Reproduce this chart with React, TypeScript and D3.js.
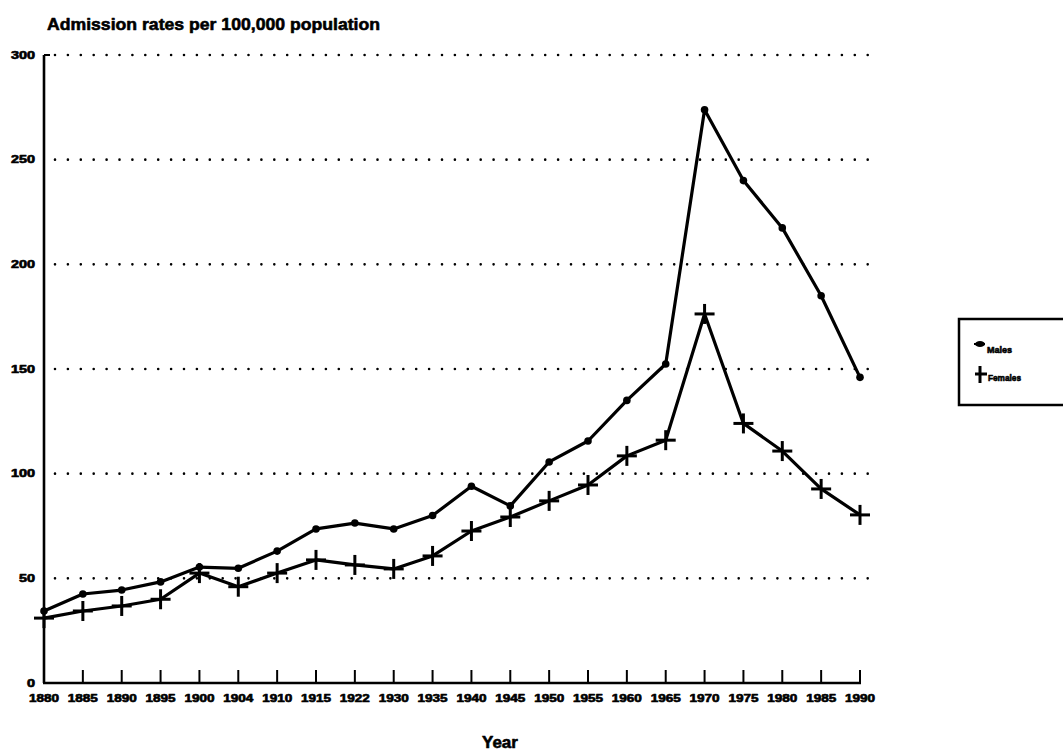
import React from "react";
import * as d3 from "d3";

const years = ["1880","1885","1890","1895","1900","1904","1910","1915","1922","1930","1935","1940","1945","1950","1955","1960","1965","1970","1975","1980","1985","1990"];
const males = [34.4,42.5,44.4,48.3,55.4,54.8,63,73.6,76.4,73.6,80,94,84.6,105.6,115.6,135,152.4,273.8,240,217.4,185,146];
const females = [31,34.4,36.8,40,52.5,46,52.5,58.8,56.4,54.5,60.7,72.6,79.3,87,94.6,108.5,116,176.3,124,110.8,92.7,80.3];
const yTicks = [0,50,100,150,200,250,300];
const gridTicks = [50,100,150,200,250,300];

const W = 1063, H = 751;
const FONT = "'Liberation Sans', Arial, sans-serif";

export default function App() {
  const x = d3.scalePoint<string>().domain(years).range([44, 860]);
  const y = d3.scaleLinear().domain([0, 300]).range([683, 55]);
  const line = d3.line<number>().x((_, i) => x(years[i])!).y((d) => y(d));
  const heavy = { stroke: "#000", strokeWidth: 0.6, strokeLinejoin: "round" as const };

  return (
    <svg width={W} height={H} style={{ position: "absolute", left: 0, top: 0, background: "#fff" }}>
      <rect width={W} height={H} fill="#fff" />
      <text x={47} y={30} fontFamily={FONT} fontWeight="bold" fontSize={17} textLength={333} lengthAdjust="spacingAndGlyphs" {...heavy}>Admission rates per 100,000 population</text>
      {gridTicks.map((t) => (
        <line key={t} x1={55} x2={880} y1={y(t)} y2={y(t)} stroke="#000" strokeWidth={2.6} strokeLinecap="round" strokeDasharray="0 12.9" />
      ))}
      {yTicks.map((t) => (
        <text key={t} x={35} y={y(t) + 3.5} textAnchor="end" fontFamily={FONT} fontWeight="bold" fontSize={10} textLength={String(t).length * 8} lengthAdjust="spacingAndGlyphs" {...heavy}>{t}</text>
      ))}
      <line x1={44} x2={44} y1={y(300)} y2={y(0)} stroke="#000" strokeWidth={2.6} />
      <line x1={44} x2={50} y1={y(300)} y2={y(300)} stroke="#000" strokeWidth={2} />
      <line x1={43} x2={861} y1={y(0)} y2={y(0)} stroke="#000" strokeWidth={2.6} />
      {years.map((yr) => (
        <line key={yr} x1={x(yr)} x2={x(yr)} y1={y(0)} y2={y(0) - 13} stroke="#000" strokeWidth={2} />
      ))}
      {years.map((yr) => (
        <text key={yr} x={x(yr)} y={702} textAnchor="middle" fontFamily={FONT} fontWeight="bold" fontSize={10} textLength={30} lengthAdjust="spacingAndGlyphs" {...heavy}>{yr}</text>
      ))}
      <path d={line(males)!} fill="none" stroke="#000" strokeWidth={3.2} strokeLinejoin="round" />
      <path d={line(females)!} fill="none" stroke="#000" strokeWidth={3.2} strokeLinejoin="round" />
      {males.map((v, i) => (
        <circle key={i} cx={x(years[i])} cy={y(v)} r={3.8} fill="#000" />
      ))}
      {females.map((v, i) => (
        <g key={i} stroke="#000" strokeWidth={3}>
          <line x1={x(years[i])! - 10} x2={x(years[i])! + 10} y1={y(v)} y2={y(v)} />
          <line x1={x(years[i])} x2={x(years[i])} y1={y(v) - 10} y2={y(v) + 10} />
        </g>
      ))}
      <text x={482} y={748} fontFamily={FONT} fontWeight="bold" fontSize={17} {...heavy}>Year</text>
      <rect x={959} y={319} width={110} height={86} fill="none" stroke="#000" strokeWidth={2.5} />
      <ellipse cx={980} cy={344} rx={5} ry={3} fill="#000" />
      <line x1={974} x2={985} y1={344} y2={344} stroke="#000" strokeWidth={2} />
      <text x={987} y={353} fontFamily={FONT} fontWeight="bold" fontSize={9} textLength={25} lengthAdjust="spacingAndGlyphs" {...heavy}>Males</text>
      <line x1={975} x2={987} y1={374} y2={374} stroke="#000" strokeWidth={3} />
      <line x1={980} x2={980} y1={366} y2={383} stroke="#000" strokeWidth={3} />
      <text x={988} y={381} fontFamily={FONT} fontWeight="bold" fontSize={9} textLength={33} lengthAdjust="spacingAndGlyphs" {...heavy}>Females</text>
    </svg>
  );
}
